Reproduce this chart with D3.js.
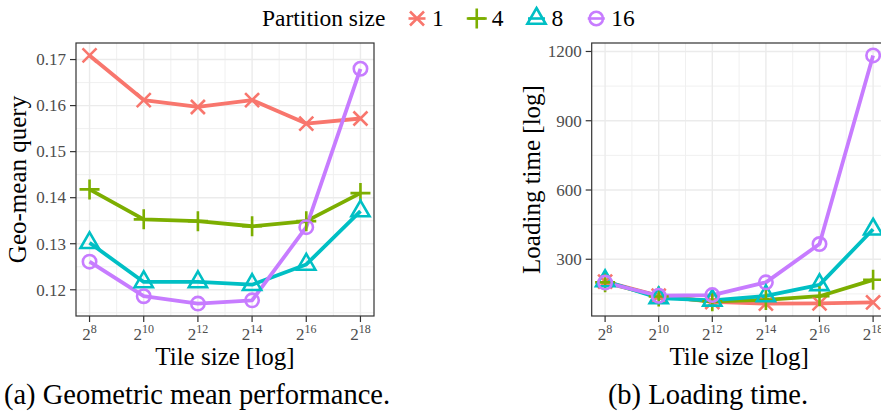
<!DOCTYPE html>
<html>
<head>
<meta charset="utf-8">
<script src="https://cdn.jsdelivr.net/npm/d3@7"></script>
<style>
  body { margin: 0; background: #fff; }
  svg { display: block; }
  text { font-family: "Liberation Serif", "Times New Roman", serif; }
</style>
</head>
<body>
<svg id="fig"></svg>
<script>
const W = 881, H = 415;

// tile size exponents (2^x)
const tileExp = [8, 10, 12, 14, 16, 18];
const partitions = ["1", "4", "8", "16"];

// (a) geo-mean query time
const geoP1  = [0.1709, 0.1612, 0.1597, 0.1612, 0.1561, 0.1572];
const geoP4  = [0.1418, 0.1353, 0.1349, 0.1338, 0.1349, 0.1410];
const geoP8  = [0.1302, 0.1217, 0.1217, 0.1211, 0.1255, 0.1371];
const geoP16 = [0.1261, 0.1186, 0.1170, 0.1177, 0.1336, 0.1680];

// (b) loading time
const loadP1  = [203, 142, 115, 108, 109, 113];
const loadP4  = [200, 139, 118, 124, 140, 211];
const loadP8  = [206, 132, 122, 141, 189, 430];
const loadP16 = [199, 142, 145, 200, 366, 1183];

const geoTicks = [0.12, 0.13, 0.14, 0.15, 0.16, 0.17];
const loadTicks = [300, 600, 900, 1200];

const colors = ["#F8766D", "#7CAE00", "#00BFC4", "#C77CFF"];
const shapes = ["cross", "plus", "triangle", "circle"];

const svg = d3.select("#fig").attr("width", W).attr("height", H);

function marker(g, shape, color) {
  const s = g.append("path")
    .attr("fill", "none")
    .attr("stroke", color)
    .attr("stroke-width", 2.6);
  if (shape === "cross") s.attr("d", "M-7,-7L7,7M-7,7L7,-7");
  else if (shape === "plus") s.attr("d", "M-10,0H10M0,-10V10");
  else if (shape === "triangle") {
    const R = 10.5, a = R * Math.sqrt(3) / 2;
    s.attr("d", `M0,${-R}L${a},${R / 2}L${-a},${R / 2}Z`);
  } else s.attr("d", d3.arc()({innerRadius: 0, outerRadius: 6.7, startAngle: 0, endAngle: 2 * Math.PI}))
          .attr("d", "M6.7,0A6.7,6.7 0 1,1 -6.7,0A6.7,6.7 0 1,1 6.7,0Z");
}

function midTicks(ticks, domain) {
  const step = ticks[1] - ticks[0];
  const out = [];
  for (let v = ticks[0] - step / 2; v <= domain[1]; v += step) {
    if (v >= domain[0]) out.push(v);
  }
  return out;
}

function drawPanel(p) {
  const g = svg.append("g");

  const xd = d3.extent(tileExp), xpad = (xd[1] - xd[0]) * 0.05;
  const x = d3.scaleLinear().domain([xd[0] - xpad, xd[1] + xpad]).range([p.left, p.right]);

  const all = p.series.flat();
  const yd = d3.extent(all), ypad = (yd[1] - yd[0]) * 0.05;
  const y = d3.scaleLinear().domain([yd[0] - ypad, yd[1] + ypad]).range([p.bottom, p.top]);

  // grid
  const xMinor = [9, 11, 13, 15, 17];
  const yMinor = midTicks(p.yTicks, y.domain());
  g.selectAll(".gxm").data(xMinor).enter().append("line")
    .attr("x1", d => x(d)).attr("x2", d => x(d))
    .attr("y1", p.top).attr("y2", p.bottom)
    .attr("stroke", "#f0f0f0").attr("stroke-width", 1);
  g.selectAll(".gym").data(yMinor).enter().append("line")
    .attr("x1", p.left).attr("x2", p.right)
    .attr("y1", d => y(d)).attr("y2", d => y(d))
    .attr("stroke", "#f0f0f0").attr("stroke-width", 1);
  g.selectAll(".gx").data(tileExp).enter().append("line")
    .attr("x1", d => x(d)).attr("x2", d => x(d))
    .attr("y1", p.top).attr("y2", p.bottom)
    .attr("stroke", "#ebebeb").attr("stroke-width", 1.4);
  g.selectAll(".gy").data(p.yTicks).enter().append("line")
    .attr("x1", p.left).attr("x2", p.right)
    .attr("y1", d => y(d)).attr("y2", d => y(d))
    .attr("stroke", "#ebebeb").attr("stroke-width", 1.4);

  // lines
  const line = d3.line().x((d, i) => x(tileExp[i])).y(d => y(d));
  p.series.forEach((vals, k) => {
    g.append("path").datum(vals)
      .attr("fill", "none")
      .attr("stroke", colors[k])
      .attr("stroke-width", 3.8)
      .attr("stroke-linejoin", "round")
      .attr("d", line);
  });
  // points
  p.series.forEach((vals, k) => {
    vals.forEach((v, i) => {
      const mg = g.append("g").attr("transform", `translate(${x(tileExp[i])},${y(v)})`);
      marker(mg, shapes[k], colors[k]);
    });
  });

  // border
  g.append("rect")
    .attr("x", p.left).attr("y", p.top)
    .attr("width", p.right - p.left).attr("height", p.bottom - p.top)
    .attr("fill", "none").attr("stroke", "#333").attr("stroke-width", 1.2);

  // y ticks
  p.yTicks.forEach(t => {
    g.append("line")
      .attr("x1", p.left - 6).attr("x2", p.left)
      .attr("y1", y(t)).attr("y2", y(t))
      .attr("stroke", "#333").attr("stroke-width", 1.2);
    g.append("text")
      .attr("x", p.left - 10).attr("y", y(t))
      .attr("dy", "0.34em")
      .attr("text-anchor", "end")
      .attr("font-size", 17)
      .attr("fill", "#4d4d4d")
      .text(p.yFmt(t));
  });

  // x ticks
  tileExp.forEach(e => {
    g.append("line")
      .attr("x1", x(e)).attr("x2", x(e))
      .attr("y1", p.bottom).attr("y2", p.bottom + 6)
      .attr("stroke", "#333").attr("stroke-width", 1.2);
    const t = g.append("text")
      .attr("x", x(e)).attr("y", 340)
      .attr("text-anchor", "middle")
      .attr("fill", "#4d4d4d");
    t.append("tspan").attr("font-size", 17).text("2");
    t.append("tspan").attr("font-size", 12).attr("dy", -7.3).text(e);
  });

  // axis titles
  g.append("text")
    .attr("x", (p.left + p.right) / 2).attr("y", 365)
    .attr("text-anchor", "middle")
    .attr("font-size", 25)
    .text("Tile size [log]");
  g.append("text")
    .attr("transform", `translate(${p.yTitleX},${(p.top + p.bottom) / 2}) rotate(-90)`)
    .attr("text-anchor", "middle")
    .attr("font-size", 25)
    .text(p.yTitle);

  // caption
  g.append("text")
    .attr("x", p.captionX).attr("y", 404)
    .attr("text-anchor", "middle")
    .attr("font-size", 28.5)
    .text(p.caption);
}

drawPanel({
  left: 76, right: 374, top: 43, bottom: 316,
  series: [geoP1, geoP4, geoP8, geoP16],
  yTicks: geoTicks, yFmt: d3.format(".2f"),
  yTitle: "Geo-mean query", yTitleX: 26,
  caption: "(a) Geometric mean performance.", captionX: 197
});

drawPanel({
  left: 591.7, right: 886.5, top: 43, bottom: 316,
  series: [loadP1, loadP4, loadP8, loadP16],
  yTicks: loadTicks, yFmt: d3.format("d"),
  yTitle: "Loading time [log]", yTitleX: 540,
  caption: "(b) Loading time.", captionX: 708
});

// legend
const leg = svg.append("g");
const title = leg.append("text")
  .attr("x", 262).attr("y", 26)
  .attr("font-size", 23.5)
  .text("Partition size");
let cursor = 417;
partitions.forEach((p, k) => {
  const kg = leg.append("g").attr("transform", `translate(${cursor},18.5)`);
  kg.append("line")
    .attr("x1", -8.5).attr("x2", 8.5)
    .attr("stroke", colors[k]).attr("stroke-width", 2.6);
  marker(kg, shapes[k], colors[k]);
  const lbl = leg.append("text")
    .attr("x", cursor + 15).attr("y", 26)
    .attr("font-size", 23.5)
    .text(p);
  cursor = cursor + 15 + lbl.node().getComputedTextLength() + 33;
});
</script>
</body>
</html>
